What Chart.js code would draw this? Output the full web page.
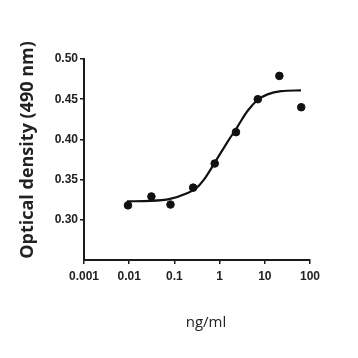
<!DOCTYPE html>
<html>
<head>
<meta charset="utf-8">
<script src="https://cdn.jsdelivr.net/npm/chart.js@4/dist/chart.umd.min.js"></script>
<style>
  html, body { margin: 0; padding: 0; background: #fff; }
  #wrap { width: 358px; height: 358px; }
</style>
</head>
<body>
<div id="wrap"><canvas id="c" width="358" height="358"></canvas></div>
<script>
// Measured points (concentration ng/ml, optical density)
const concentrations = [0.0094, 0.031, 0.082, 0.26, 0.78, 2.3, 7.0, 21, 64];
const opticalDensity = [0.318, 0.329, 0.319, 0.340, 0.370, 0.409, 0.450, 0.479, 0.440];

// Fitted curve
const curveX = [0.0089, 0.03, 0.08, 0.19, 0.3, 0.45, 0.8, 1.5, 2.5, 4.1, 6.9, 11.5, 23, 63];
const curveY = [0.323, 0.3235, 0.326, 0.333, 0.339, 0.350, 0.372, 0.397, 0.416, 0.435, 0.449, 0.456, 0.460, 0.461];

const xTicks = [0.001, 0.01, 0.1, 1, 10, 100];
const xTickLabels = ['0.001', '0.01', '0.1', '1', '10', '100'];
const yTicks = [0.30, 0.35, 0.40, 0.45, 0.50];

const xTitle = 'ng/ml';
const yTitle = 'Optical density (490 nm)';

const pts = concentrations.map((x, i) => ({ x, y: opticalDensity[i] }));
const curve = curveX.map((x, i) => ({ x, y: curveY[i] }));

const AXIS = '#1a1a1a';
const TXT = '#222';

// Axis titles placed where the reference has them
const axisTitles = {
  id: 'axisTitles',
  afterDraw(chart) {
    const ctx = chart.ctx;
    ctx.save();
    ctx.fillStyle = TXT;
    ctx.textAlign = 'center';
    ctx.textBaseline = 'middle';
    ctx.font = 'normal 15px "Open Sans"';
    ctx.fillText(xTitle, 206, 323);
    ctx.translate(28, 150);
    ctx.rotate(-Math.PI / 2);
    ctx.font = 'bold 18px "Open Sans"';
    ctx.fillText(yTitle, 0, 0);
    ctx.restore();
  }
};

new Chart(document.getElementById('c'), {
  type: 'scatter',
  data: {
    datasets: [
      {
        type: 'line',
        data: curve,
        borderColor: '#111',
        borderWidth: 2.2,
        pointRadius: 0,
        fill: false,
        cubicInterpolationMode: 'monotone',
        order: 2
      },
      {
        data: pts,
        backgroundColor: '#111',
        borderColor: '#111',
        pointRadius: 3.8,
        order: 1
      }
    ]
  },
  plugins: [axisTitles],
  options: {
    responsive: false,
    animation: false,
    devicePixelRatio: 1,
    layout: { padding: { left: 0, right: 48, top: 59, bottom: 0 } },
    plugins: { legend: { display: false }, tooltip: { enabled: false } },
    scales: {
      x: {
        type: 'logarithmic',
        min: 0.001,
        max: 100,
        afterBuildTicks: (s) => { s.ticks = xTicks.map(v => ({ value: v })); },
        afterFit: (s) => { s.height = 98; },
        ticks: {
          autoSkip: false,
          maxRotation: 0,
          padding: 5,
          color: TXT,
          font: { family: 'Liberation Sans, Arial', size: 12, weight: 'bold' },
          callback: (v) => { const i = xTicks.indexOf(v); return i >= 0 ? xTickLabels[i] : ''; }
        },
        grid: { display: true, drawOnChartArea: false, drawTicks: true, tickLength: 4, color: AXIS, lineWidth: 1.5 },
        border: { display: true, color: AXIS, width: 2 },
        title: { display: false }
      },
      y: {
        min: 0.25,
        max: 0.50,
        afterBuildTicks: (s) => { s.ticks = yTicks.map(v => ({ value: v })); },
        afterFit: (s) => { s.width = 84; },
        ticks: {
          padding: 2,
          color: TXT,
          font: { family: 'Liberation Sans, Arial', size: 12, weight: 'bold' },
          callback: (v) => Number(v).toFixed(2)
        },
        grid: { display: true, drawOnChartArea: false, drawTicks: true, tickLength: 4, color: AXIS, lineWidth: 1.5 },
        border: { display: true, color: AXIS, width: 2 },
        title: { display: false }
      }
    }
  }
});
</script>
</body>
</html>
